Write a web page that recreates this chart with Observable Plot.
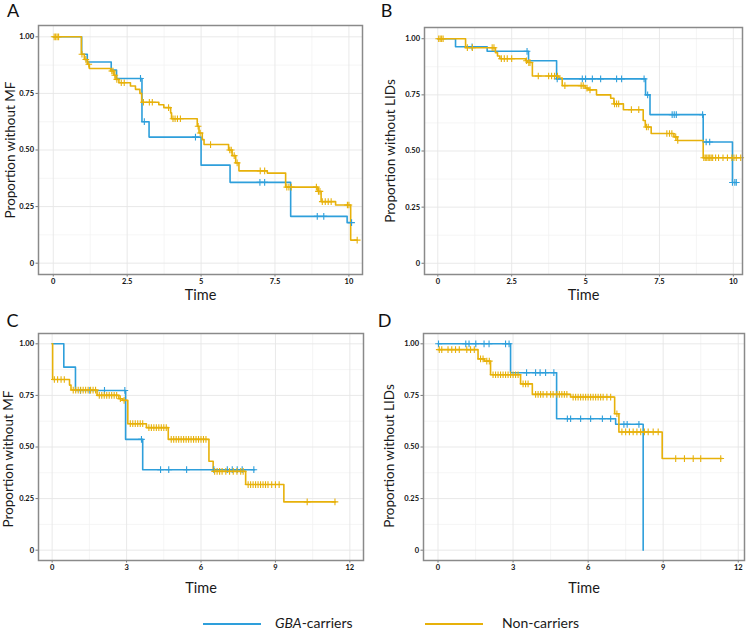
<!DOCTYPE html>
<html><head><meta charset="utf-8">
<script src="https://cdn.jsdelivr.net/npm/d3@7"></script>
<script src="https://cdn.jsdelivr.net/npm/@observablehq/plot@0.6"></script>
<style>
body{margin:0;background:#fff;}
#root{position:relative;width:750px;height:631px;overflow:hidden;font-family:Lato,"Open Sans",sans-serif;color:#1a1a1a;}
.panel{position:absolute;}
.panel svg{overflow:visible;}
.leg-line{position:absolute;height:2px;}
.leg-text{position:absolute;font-size:14px;line-height:16px;}
</style></head><body><div id="root"></div><script>
// ---------- data ----------
const groups = ["GBA-carriers", "Non-carriers"];
const groupColors = ["#2E9FDB", "#E7B10A"];
const yTickValues = [0, 0.25, 0.5, 0.75, 1];
const yTickLabels = ["0", "0.25", "0.50", "0.75", "1.00"];
const yMinorValues = [0.125, 0.375, 0.625, 0.875];
const xTicksAB = [0, 2.5, 5, 7.5, 10];
const xLabelsAB = ["0", "2.5", "5", "7.5", "10"];
const xMinorAB = [1.25, 3.75, 6.25, 8.75];
const xTicksCD = [0, 3, 6, 9, 12];
const xLabelsCD = ["0", "3", "6", "9", "12"];
const xMinorCD = [1.5, 4.5, 7.5, 10.5];
const panelLetters = ["A", "B", "C", "D"];
const yTitles = ["Proportion without MF", "Proportion without LIDs", "Proportion without MF", "Proportion without LIDs"];
const xTitle = "Time";

// Panel A
const aBlueT = [0, 0.96, 1.15, 1.96, 2.14, 3.0, 3.24, 5.0, 5.98, 8.03, 9.94, 10.09];
const aBlueS = [1, 0.923, 0.889, 0.853, 0.816, 0.625, 0.557, 0.433, 0.357, 0.207, 0.179, 0.179];
const aBlueC = [2.95, 3.08, 4.81, 6.99, 7.15, 8.93, 9.15, 10.09];
const aGoldT = [0, 0.95, 1.05, 1.15, 1.22, 1.94, 2.05, 2.12, 2.22, 2.61, 2.78, 2.93, 2.99, 3.57, 3.74, 3.97, 4.0, 4.87, 4.93, 5.04, 5.1, 5.93, 6.05, 6.17, 6.28, 7.24, 7.86, 8.95, 9.06, 9.55, 10.06, 10.28];
const aGoldS = [1, 0.923, 0.90, 0.879, 0.86, 0.849, 0.83, 0.812, 0.797, 0.783, 0.768, 0.75, 0.711, 0.70, 0.687, 0.664, 0.638, 0.605, 0.575, 0.546, 0.524, 0.50, 0.475, 0.443, 0.408, 0.398, 0.336, 0.317, 0.272, 0.257, 0.102, 0.102];
const aGoldC = [0.03, 0.08, 0.13, 0.18, 0.97, 1.1, 1.2, 1.98, 2.02, 2.08, 2.15, 2.3, 2.4, 3.05, 3.25, 3.35, 3.9, 4.05, 4.12, 4.2, 4.3, 4.9, 4.97, 5.32, 5.97, 6.02, 6.12, 6.22, 7.0, 7.15, 7.9, 7.97, 8.05, 8.9, 8.97, 9.02, 9.1, 9.2, 9.3, 9.4, 9.95, 10.0, 10.28];

// Panel B
const bBlueT = [0, 0.6, 1.67, 3.07, 4.02, 7.03, 7.18, 8.98, 9.97, 10.12];
const bBlueS = [1, 0.964, 0.944, 0.902, 0.821, 0.75, 0.662, 0.54, 0.36, 0.36];
const bBlueC = [1.16, 3.02, 4.04, 4.89, 5.0, 5.23, 5.51, 6.05, 6.22, 6.98, 7.1, 7.93, 8.0, 8.07, 8.96, 9.08, 9.2, 9.97, 10.05, 10.1];
const bGoldT = [0, 0.94, 1.95, 2.02, 2.1, 2.97, 3.03, 3.2, 4.1, 4.21, 4.99, 5.1, 5.37, 5.85, 5.96, 6.28, 6.95, 7.02, 7.22, 7.99, 8.1, 8.98, 10.25];
const bGoldS = [1, 0.96, 0.938, 0.923, 0.911, 0.902, 0.894, 0.834, 0.825, 0.791, 0.78, 0.772, 0.75, 0.735, 0.71, 0.684, 0.636, 0.607, 0.578, 0.563, 0.547, 0.47, 0.47];
const bGoldC = [0.03, 0.08, 0.13, 0.18, 1.0, 1.17, 1.84, 1.9, 2.15, 2.25, 2.35, 2.5, 3.0, 3.08, 3.12, 3.4, 3.75, 3.85, 3.95, 4.05, 4.3, 4.85, 4.92, 5.05, 5.15, 5.98, 6.05, 6.12, 6.55, 6.8, 7.06, 7.12, 7.75, 7.84, 7.92, 8.05, 8.12, 9.0, 9.05, 9.1, 9.15, 9.2, 9.25, 9.3, 9.4, 9.5, 9.65, 9.8, 9.95, 10.02, 10.1, 10.25];

// Panel C
const cBlueT = [0, 0.47, 0.94, 2.96, 3.65, 8.16];
const cBlueS = [1, 0.887, 0.774, 0.537, 0.39, 0.39];
const cBlueC = [1.14, 1.52, 2.11, 2.93, 3.6, 4.37, 4.7, 5.42, 6.52, 7.06, 7.26, 7.46, 7.66, 8.13];
const cGoldT = [0, 0.02, 0.7, 0.76, 1.81, 2.69, 2.84, 3.05, 3.8, 4.68, 6.32, 6.49, 7.8, 9.34, 11.42];
const cGoldS = [1, 0.827, 0.80, 0.776, 0.75, 0.734, 0.726, 0.613, 0.594, 0.537, 0.431, 0.382, 0.318, 0.234, 0.234];
const cGoldC = [0.09, 0.22, 0.36, 0.49, 0.85, 0.95, 1.05, 1.15, 1.25, 1.35, 1.45, 1.55, 1.65, 1.75, 1.9, 2.0, 2.1, 2.2, 2.3, 2.4, 2.5, 2.6, 2.75, 2.9, 3.15, 3.25, 3.35, 3.45, 3.55, 3.65, 3.9, 4.0, 4.1, 4.2, 4.3, 4.4, 4.5, 4.6, 4.8, 4.9, 5.0, 5.1, 5.2, 5.3, 5.4, 5.5, 5.6, 5.7, 5.8, 5.9, 6.0, 6.1, 6.2, 6.55, 6.65, 6.75, 6.85, 7.0, 7.15, 7.3, 7.45, 7.6, 7.7, 7.9, 8.0, 8.1, 8.2, 8.3, 8.4, 8.5, 8.6, 8.7, 8.85, 9.0, 9.15, 10.28, 11.4];

// Panel D
const dBlueT = [0, 2.9, 4.74, 7.1, 8.2];
const dBlueS = [1, 0.86, 0.637, 0.61, 0];
const dBlueC = [0.02, 1.11, 1.24, 1.51, 1.84, 2.04, 2.7, 2.84, 3.54, 3.9, 4.08, 4.3, 4.63, 5.17, 5.3, 5.7, 6.1, 6.57, 6.9, 7.43, 7.56, 8.03];
const dGoldT = [0, 1.6, 1.85, 2.1, 3.3, 3.77, 5.3, 7.06, 7.23, 8.96, 11.36];
const dGoldS = [0.972, 0.927, 0.916, 0.85, 0.806, 0.755, 0.742, 0.661, 0.573, 0.444, 0.444];
const dGoldC = [0.05, 0.15, 0.4, 0.55, 0.7, 0.85, 1.15, 1.3, 1.45, 1.7, 1.8, 1.95, 2.05, 2.2, 2.3, 2.4, 2.5, 2.6, 2.7, 2.8, 2.9, 3.0, 3.1, 3.2, 3.4, 3.5, 3.6, 3.9, 4.0, 4.1, 4.2, 4.35, 4.5, 4.6, 4.75, 4.85, 4.95, 5.05, 5.15, 5.4, 5.5, 5.6, 5.7, 5.8, 5.9, 6.0, 6.1, 6.2, 6.3, 6.4, 6.5, 6.6, 6.75, 6.9, 7.15, 7.35, 7.5, 7.65, 7.8, 7.95, 8.1, 8.25, 8.4, 8.6, 8.8, 9.5, 9.85, 10.2, 10.5, 11.3];

// ---------- layout ----------
const layouts = [
  {left: 0, top: 0, width: 375, height: 300, mL: 38, mR: 13, mT: 25, mB: 26, xDom: [-0.5, 10.46], letter: [-25.5, -14], ylab: [-28, 0], xlabDy: 21},
  {left: 375, top: 0, width: 375, height: 300, mL: 49, mR: 8, mT: 27, mB: 26, xDom: [-0.45, 10.31], letter: [-38, -16], ylab: [-34, 0], xlabDy: 21},
  {left: 0, top: 300, width: 375, height: 300, mL: 38, mR: 12, mT: 33, mB: 40, xDom: [-0.55, 12.55], letter: [-26, -12], ylab: [-29.5, 12], xlabDy: 28},
  {left: 375, top: 300, width: 375, height: 300, mL: 48, mR: 6, mT: 33, mB: 40, xDom: [-0.58, 12.25], letter: [-39, -12], ylab: [-34, 9], xlabDy: 28}
];

const curves = [
  [[aBlueT, aBlueS, aBlueC], [aGoldT, aGoldS, aGoldC]],
  [[bBlueT, bBlueS, bBlueC], [bGoldT, bGoldS, bGoldC]],
  [[cBlueT, cBlueS, cBlueC], [cGoldT, cGoldS, cGoldC]],
  [[dBlueT, dBlueS, dBlueC], [dGoldT, dGoldS, dGoldC]]
];

function stepAt(T, S, t) {
  let v = S[0];
  for (let i = 0; i < T.length; i++) if (T[i] <= t) v = S[i];
  return v;
}

const root = document.getElementById("root");
const yLabelMap = new Map(yTickValues.map((v, i) => [v, yTickLabels[i]]));

layouts.forEach((L, p) => {
  const ab = p < 2;
  const xTicks = ab ? xTicksAB : xTicksCD;
  const xLabels = ab ? xLabelsAB : xLabelsCD;
  const xMinor = ab ? xMinorAB : xMinorCD;
  const xLabelMap = new Map(xTicks.map((v, i) => [v, xLabels[i]]));
  const marks = [
    Plot.ruleY(yMinorValues, {stroke: "#f2f2f2", strokeWidth: 0.8}),
    Plot.ruleX(xMinor, {stroke: "#f2f2f2", strokeWidth: 0.8}),
    Plot.ruleY(yTickValues, {stroke: "#e7e7e7", strokeWidth: 0.9}),
    Plot.ruleX(xTicks, {stroke: "#e7e7e7", strokeWidth: 0.9}),
    Plot.axisX(xTicks, {tickFormat: d => xLabelMap.get(d), tickSize: 2.5, tickPadding: 2, fontSize: 7.5, fontWeight: "bold", stroke: "#777", label: null}),
    Plot.axisY(yTickValues, {tickFormat: d => yLabelMap.get(d), tickSize: 2.5, tickPadding: 2, fontSize: 7.5, fontWeight: "bold", stroke: "#777", label: null})
  ];
  curves[p].forEach(([T, S, C], g) => {
    const line = T.map((t, i) => ({t, s: S[i]}));
    marks.push(Plot.line(line, {x: "t", y: "s", curve: "step-after", stroke: groupColors[g], strokeWidth: 1.6}));
  });
  curves[p].forEach(([T, S, C], g) => {
    const cens = C.map(t => ({t, s: stepAt(T, S, t)}));
    marks.push(Plot.dot(cens, {x: "t", y: "s", symbol: "plus", r: 2.3, stroke: groupColors[g], strokeWidth: 1.1}));
  });
  marks.push(
    Plot.frame({stroke: "#8a8a8a", strokeWidth: 1.5}),
    Plot.text([yTitles[p]], {frameAnchor: "left", textAnchor: "middle", lineAnchor: "middle", rotate: -90, dx: L.ylab[0], dy: L.ylab[1], fontSize: 13.5, fill: "#1a1a1a"}),
    Plot.text([xTitle], {frameAnchor: "bottom", textAnchor: "middle", lineAnchor: "middle", dy: L.xlabDy, fontSize: 14.5, fill: "#1a1a1a"}),
    Plot.text([panelLetters[p]], {frameAnchor: "top-left", textAnchor: "middle", lineAnchor: "middle", dx: L.letter[0], dy: L.letter[1], fontSize: 18, fill: "#111"})
  );
  const chart = Plot.plot({
    width: L.width, height: L.height,
    marginLeft: L.mL, marginRight: L.mR, marginTop: L.mT, marginBottom: L.mB,
    x: {domain: L.xDom, axis: null},
    y: {domain: [-0.05, 1.05], axis: null},
    style: {fontFamily: "Lato, 'Open Sans', sans-serif", background: "transparent", color: "#111"},
    marks
  });
  const div = document.createElement("div");
  div.className = "panel";
  div.style.left = L.left + "px";
  div.style.top = L.top + "px";
  div.appendChild(chart);
  root.appendChild(div);
});

// ---------- legend ----------
const legendPos = [{line: 203, text: 275}, {line: 425, text: 502}];
groups.forEach((name, g) => {
  const ln = document.createElement("div");
  ln.className = "leg-line";
  ln.style.left = legendPos[g].line + "px";
  ln.style.top = "623px";
  ln.style.width = "58px";
  ln.style.background = groupColors[g];
  root.appendChild(ln);
  const tx = document.createElement("div");
  tx.className = "leg-text";
  tx.style.left = legendPos[g].text + "px";
  tx.style.top = "615px";
  if (name.startsWith("GBA")) {
    const it = document.createElement("i");
    it.textContent = "GBA";
    tx.appendChild(it);
    tx.appendChild(document.createTextNode(name.slice(3)));
  } else tx.textContent = name;
  root.appendChild(tx);
});
</script></body></html>
